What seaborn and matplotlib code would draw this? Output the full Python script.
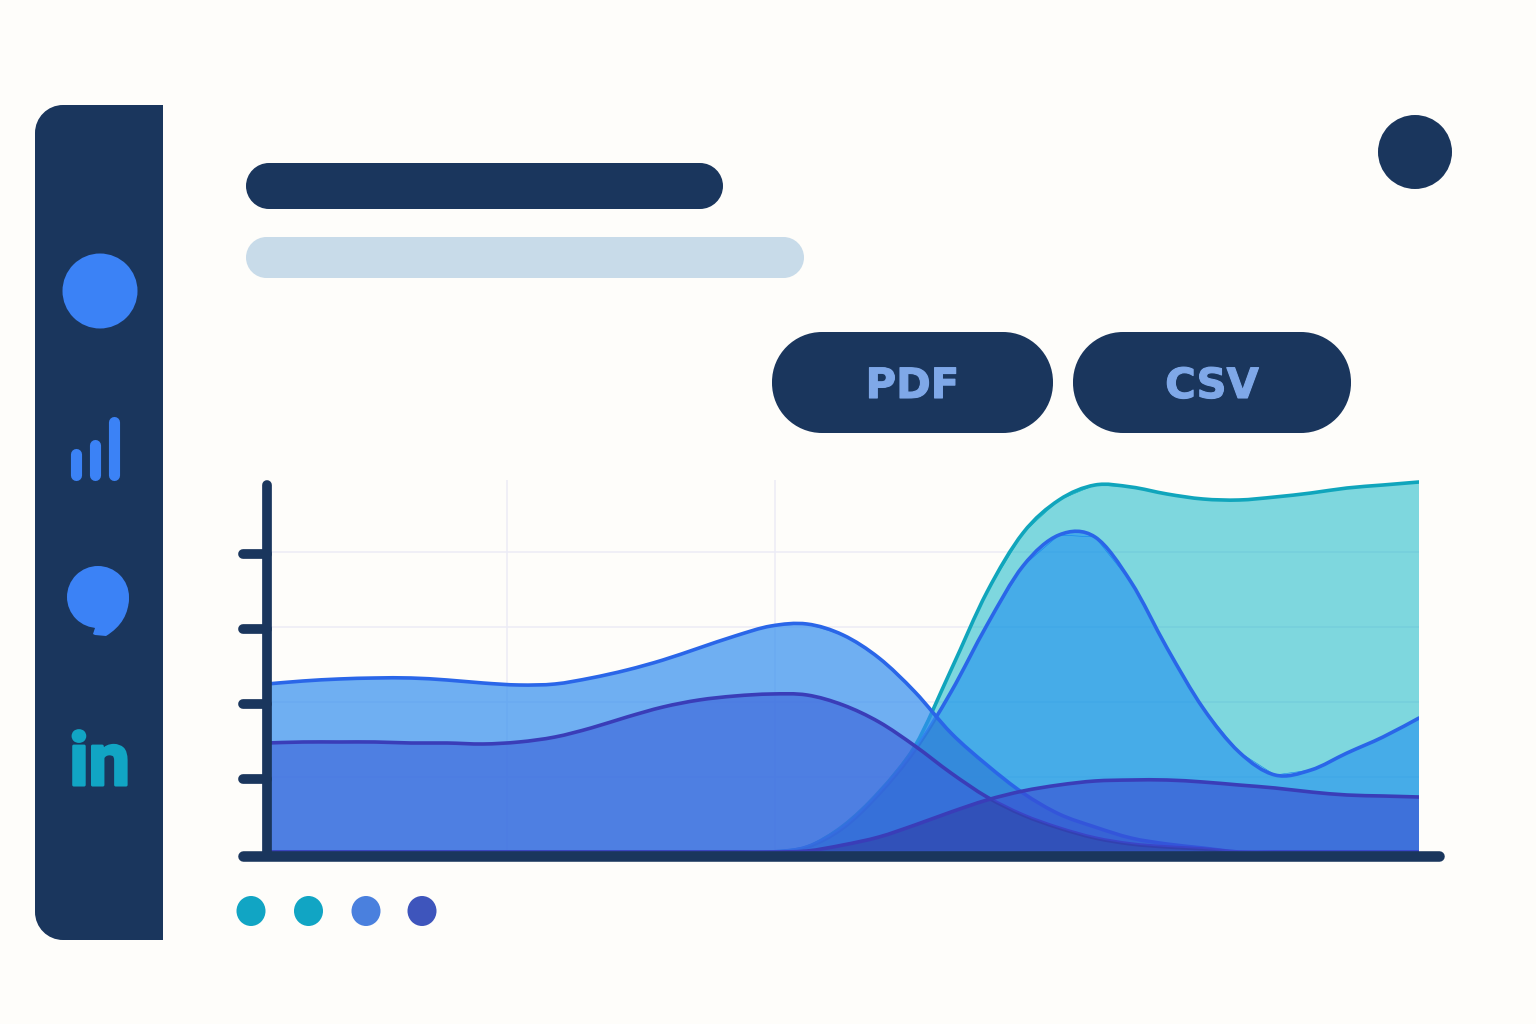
import numpy as np
import pandas as pd
import seaborn as sns
import matplotlib
matplotlib.use("Agg")
import matplotlib.pyplot as plt
import matplotlib.patheffects as pe
from matplotlib.patches import Circle, Ellipse, Rectangle, PathPatch
from matplotlib.path import Path

# ---- data (value = height above the baseline, tick spacing 75) ----
steps = list(range(33))
teal_area = [0]*15 + [5, 26, 60, 106, 182, 260, 319, 352, 367, 365, 358, 353, 352, 355, 359, 364, 367, 370]
blue_area = [0]*15 + [5, 24, 58, 102, 160, 227, 286, 317, 315, 270, 204, 144, 100, 77, 82, 99, 115, 134]
sky_area = [168, 171, 173, 174, 174, 172, 169, 167, 168, 174, 182, 192, 204, 216, 226, 228, 217, 194, 160,
            119, 87, 59, 38, 25, 14, 8, 4, 0, 0, 0, 0, 0, 0]
indigo_area = [109, 110, 110, 110, 109, 109, 108, 110, 115, 124, 135, 145, 152, 156, 158, 157, 147, 130, 106,
               79, 55, 37, 24, 14, 8, 5, 3, 0, 0, 0, 0, 0, 0]
violet_area = [0]*15 + [1, 7, 15, 27, 40, 52, 61, 67, 71, 72, 72, 70, 67, 64, 60, 57, 56, 55]
y_ticks = [75, 150, 225, 300]
x_grid = [6.67, 14.11]
legend_colors = ["#11A5C4", "#11A5C4", "#4A80DE", "#3E55BC"]
button_labels = ["PDF", "CSV"]

NAVY = "#1A365D"
BG = "#FEFDFA"
ICON = "#3B82F6"

sns.set_theme(style="white")
W, H = 1536, 1024
fig = plt.figure(figsize=(W/100, H/100), dpi=100, facecolor=BG)

# ---- interface layer, in pixel units ----
ui = fig.add_axes([0, 0, 1, 1], zorder=0)
ui.set_xlim(0, W)
ui.set_ylim(H, 0)
ui.axis("off")


def pill(x0, y0, x1, y1, r, color):
    k = 0.5523 * r
    verts = [(x0 + r, y0), (x1 - r, y0),
             (x1 - r + k, y0), (x1, y0 + r - k), (x1, y0 + r),
             (x1, y1 - r),
             (x1, y1 - r + k), (x1 - r + k, y1), (x1 - r, y1),
             (x0 + r, y1),
             (x0 + r - k, y1), (x0, y1 - r + k), (x0, y1 - r),
             (x0, y0 + r),
             (x0, y0 + r - k), (x0 + r - k, y0), (x0 + r, y0)]
    codes = [Path.MOVETO, Path.LINETO] + [Path.CURVE4]*3 + [Path.LINETO] + [Path.CURVE4]*3 + \
            [Path.LINETO] + [Path.CURVE4]*3 + [Path.LINETO] + [Path.CURVE4]*3
    ui.add_patch(PathPatch(Path(verts, codes), fc=color, ec="none"))


# sidebar
pill(35, 105, 200, 940, 28, NAVY)
ui.add_patch(Rectangle((163, 100), 50, 845, fc=BG, ec="none"))
ui.add_patch(Ellipse((100, 291), 75, 75, fc=ICON, ec="none"))
for cx, top in zip([76, 95, 114], [449, 440, 417]):
    ui.plot([cx, cx], [top + 5, 474.5], color=ICON, lw=8, solid_capstyle="round")
ui.add_patch(Circle((98, 597), 31, fc=ICON, ec="none"))
bubble = Path([(129, 597), (129, 622), (106, 636), (95, 635), (93, 634), (95, 628), (94, 626), (94, 610), (129, 597)],
              [Path.MOVETO, Path.CURVE3, Path.CURVE3, Path.LINETO, Path.LINETO, Path.LINETO, Path.LINETO,
               Path.LINETO, Path.CLOSEPOLY])
ui.add_patch(PathPatch(bubble, fc=ICON, ec="none"))
ui.text(99.5, 785, "in", color="#11A5C4", fontsize=53, fontweight="bold", family="Roboto",
        ha="center", va="baseline",
        path_effects=[pe.withStroke(linewidth=2.2, foreground="#11A5C4")])

# header bars and avatar
pill(246, 163, 723, 209, 23, NAVY)
pill(246, 237, 804, 278, 20.5, "#C8DBE9")
ui.add_patch(Circle((1415, 152), 37, fc=NAVY, ec="none"))

# buttons
for (x0, x1), label in zip([(772, 1053), (1073, 1351)], button_labels):
    pill(x0, 332, x1, 433, 50, NAVY)
    ui.text((x0 + x1)/2, 398, label, color="#7FA8E8", fontsize=30, fontweight="bold",
            family="DejaVu Sans", ha="center", va="baseline",
            path_effects=[pe.withStroke(linewidth=0.8, foreground="#7FA8E8")])

# legend dots
for cx, color in zip([251, 308.5, 366, 422], legend_colors):
    ui.add_patch(Ellipse((cx, 911), 29, 30, fc=color, ec="none"))

# ---- chart ----
left, right, top, bottom = 267, 1419, 480, 852
ax = fig.add_axes([left/W, 1 - bottom/H, (right - left)/W, (bottom - top)/H], zorder=1)
ax.patch.set_alpha(0)
ax.set_xlim(0, 32)
ax.set_ylim(0, 372)

df = pd.DataFrame({"step": steps, "teal": teal_area, "blue": blue_area, "sky": sky_area,
                   "indigo": indigo_area, "violet": violet_area})


def smooth_verts(xs, ys):
    """Bezier segments through the read values (Catmull-Rom handles)."""
    xs = np.asarray(xs, float)
    ys = np.asarray(ys, float)
    n = len(xs)
    verts = [(xs[0], ys[0])]
    for i in range(n - 1):
        i0, i3 = max(i - 1, 0), min(i + 2, n - 1)
        verts.append((xs[i] + (xs[i + 1] - xs[i0]) / 6, ys[i] + (ys[i + 1] - ys[i0]) / 6))
        verts.append((xs[i + 1] - (xs[i3] - xs[i]) / 6, ys[i + 1] - (ys[i3] - ys[i]) / 6))
        verts.append((xs[i + 1], ys[i + 1]))
    return verts


def curve_path(col):
    v = smooth_verts(df["step"], df[col])
    return Path(v, [Path.MOVETO] + [Path.CURVE4] * (len(v) - 1))


def area_path(col):
    v = smooth_verts(df["step"], df[col])
    x0, x1 = df["step"].iloc[0], df["step"].iloc[-1]
    verts = v + [(x1, 0), (x0, 0), v[0]]
    codes = [Path.MOVETO] + [Path.CURVE4] * (len(v) - 1) + [Path.LINETO, Path.LINETO, Path.CLOSEPOLY]
    return Path(verts, codes)


layers = [
    ("teal", (0/255, 178/255, 195/255), 0.5, "#10A5BC"),
    ("blue", (15/255, 131/255, 242/255), 0.5, "#2A66E8"),
    ("sky", (51/255, 142/255, 240/255), 0.7, "#2A66E8"),
    ("indigo", (57/255, 95/255, 216/255), 0.6, "#3A3DB8"),
    ("violet", (58/255, 75/255, 210/255), 0.6, "#3A3DB8"),
]
# areas darken where they overlap: (upper area, lower area, opacity of the shade)
overlap_shade = {"sky": ("blue", 0.12), "violet": ("indigo", 0.22)}

for i, (col, fill, alpha, line) in enumerate(layers):
    z = 3 + i
    # the value polyline sits under its own area; the smooth stroke above it is the visible edge
    sns.lineplot(data=df, x="step", y=col, ax=ax, color=fill, lw=0.4, zorder=z - 0.1,
                 errorbar=None)
    ax.add_patch(PathPatch(area_path(col), fc=fill, ec="none", alpha=alpha, zorder=z))
    if col in overlap_shade:
        other, shade_alpha = overlap_shade[col]
        shade = PathPatch(area_path(col), fc=NAVY, ec="none", alpha=shade_alpha, zorder=z + 0.1)
        ax.add_patch(shade)
        shade.set_clip_path(area_path(other), transform=ax.transData)
    ax.add_patch(PathPatch(curve_path(col), fc="none", ec=line, lw=2.6, capstyle="round",
                           joinstyle="round", zorder=z + 0.5))

ax.set_xlabel("")
ax.set_ylabel("")
ax.set_xticks(x_grid)
ax.set_yticks(y_ticks)
ax.set_xticklabels([])
ax.set_yticklabels([])
ax.tick_params(length=0)
ax.grid(True, color="#ECECF6", lw=1.1, zorder=1)
ax.set_axisbelow(True)
sns.despine(ax=ax, top=True, right=True, bottom=True)
ax.spines["left"].set_linewidth(7)
ax.spines["left"].set_color(NAVY)
ax.spines["left"].set_capstyle("round")
ax.spines["left"].set_zorder(20)
ax.spines["left"].set_bounds(0, 367)

# tick stubs and baseline, placed through the axes' own scales
ax.hlines(np.array(y_ticks) - 1.5, -0.68, 0, color=NAVY, lw=7, capstyle="round", clip_on=False, zorder=19)
ax.plot([-0.68, 32.55], [-3.5, -3.5], color=NAVY, lw=7.6, solid_capstyle="round", clip_on=False, zorder=21)

fig.savefig("out.png", dpi=100, facecolor=BG)
